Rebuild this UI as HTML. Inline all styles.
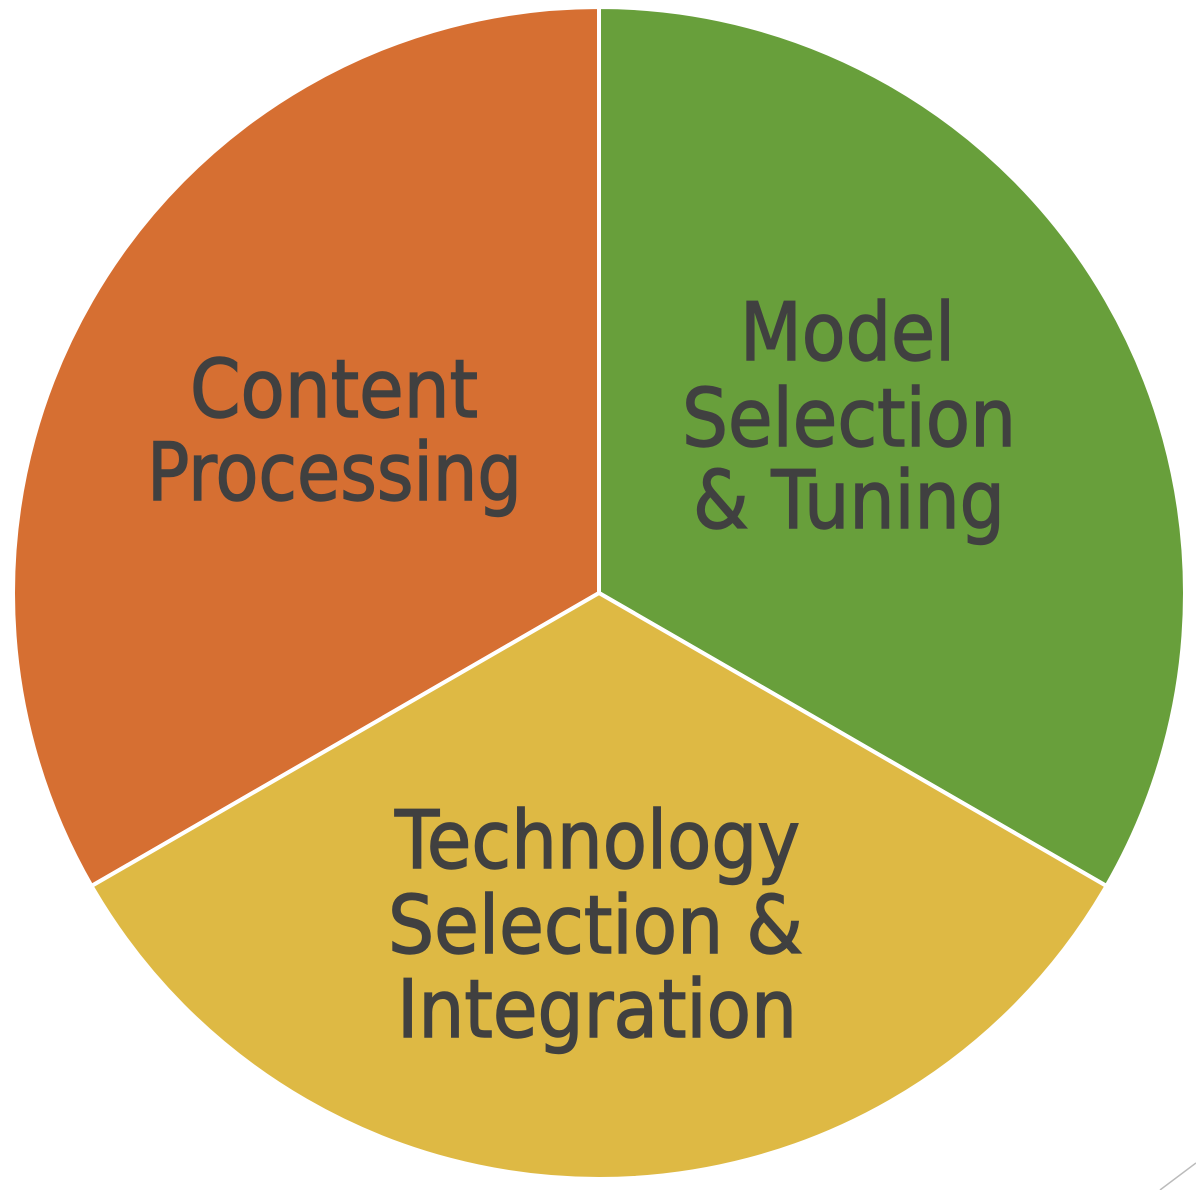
<!DOCTYPE html>
<html><head><meta charset="utf-8"><style>html,body{margin:0;padding:0;background:#fff;}svg{display:block}</style></head>
<body>
<svg width="1196" height="1190" viewBox="0 0 1196 1190" xmlns="http://www.w3.org/2000/svg">
<g stroke="#fff" stroke-width="4">
<path d="M599,593 L599,7 A586,586 0 0 0 91.5,886 Z" fill="#D66F32"/>
<path d="M599,593 L599,7 A586,586 0 0 1 1106.5,886 Z" fill="#689F3B"/>
<path d="M599,593 L1106.5,886 A586,586 0 0 1 91.5,886 Z" fill="#DEB944"/>
</g>
<line x1="1160" y1="1190" x2="1196" y2="1163" stroke="#bbb" stroke-width="1.5"/>
<g font-family="'DejaVu Sans','Liberation Sans',sans-serif" font-size="80" fill="#404040" stroke="#404040" stroke-width="1.5">
<text x="190" y="417" textLength="288" lengthAdjust="spacingAndGlyphs">Content</text>
<text x="147" y="500" textLength="375" lengthAdjust="spacingAndGlyphs">Processing</text>
<text x="740" y="360" textLength="215" lengthAdjust="spacingAndGlyphs">Model</text>
<text x="682" y="446" textLength="334" lengthAdjust="spacingAndGlyphs">Selection</text>
<text x="693" y="528" textLength="312" lengthAdjust="spacingAndGlyphs">&amp; Tuning</text>
<text x="395" y="868" textLength="405" lengthAdjust="spacingAndGlyphs">Technology</text>
<text x="388" y="953" textLength="415" lengthAdjust="spacingAndGlyphs">Selection &amp;</text>
<text x="397" y="1037" textLength="400" lengthAdjust="spacingAndGlyphs">Integration</text>
</g>
</svg>
</body></html>
